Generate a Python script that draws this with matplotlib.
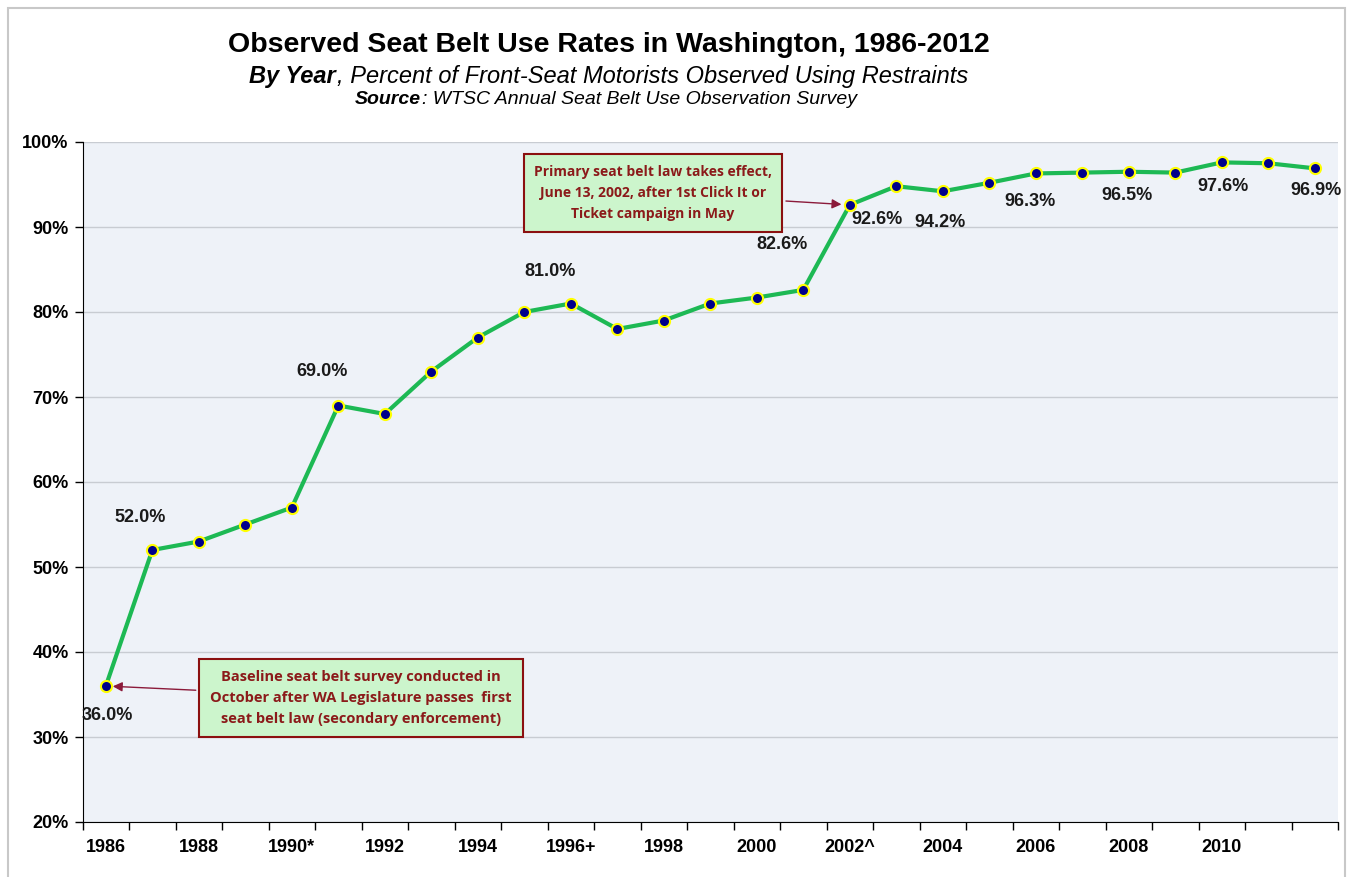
import matplotlib
matplotlib.use("Agg")
import matplotlib.pyplot as plt
from matplotlib.patches import Rectangle
import numpy as np

years = list(range(1986, 2013))
rates = [36.0, 52.0, 53.0, 55.0, 57.0, 69.0, 68.0, 73.0, 77.0, 80.0, 81.0, 78.0, 79.0, 81.0,
         81.7, 82.6, 92.6, 94.8, 94.2, 95.2, 96.3, 96.4, 96.5, 96.4, 97.6, 97.5, 96.9]
tick_years = [1986, 1988, 1990, 1992, 1994, 1996, 1998, 2000, 2002, 2004, 2006, 2008, 2010]
tick_labels = ["1986", "1988", "1990*", "1992", "1994", "1996+", "1998", "2000", "2002^",
               "2004", "2006", "2008", "2010"]
y_ticks = [20, 30, 40, 50, 60, 70, 80, 90, 100]
labeled = {1986: (1, -29), 1987: (-12, 32), 1991: (-16, 34), 1996: (-21, 32), 2001: (-21, 45),
           2002: (27, -15), 2004: (-3, -31), 2006: (-6, -28), 2008: (-2, -24),
           2010: (1, -24), 2012: (1, -22)}

plt.rcParams['font.family'] = ['Liberation Sans', 'DejaVu Sans']

fig = plt.figure(figsize=(13.49, 8.77), dpi=100)
fig.patch.set_facecolor('white')
fig.patches.append(Rectangle((8/1349, -0.01), 1337/1349, 1.01 - 8/877, transform=fig.transFigure,
                             fill=False, edgecolor='#c8c8c8', linewidth=1.5))

ax = fig.add_axes([82.6/1349, 55/877, (1338-82.6)/1349, (822-142)/877])
ax.set_facecolor('#eef2f8')
ax.set_xlim(1985.5, 2012.5)
ax.set_ylim(20, 100)

ax.set_yticks(y_ticks)
ax.set_yticklabels([f"{v}%" for v in y_ticks], fontsize=13, fontweight='bold')
ax.yaxis.grid(True, color='#c8ccd2', linewidth=1)
ax.set_axisbelow(True)

ax.set_xticks(tick_years)
ax.set_xticklabels(tick_labels, fontsize=13, fontweight='bold')
ax.set_xticks(np.arange(1985.5, 2013.0, 1.0), minor=True)
ax.tick_params(axis='x', which='major', length=0, pad=12)
ax.tick_params(axis='x', which='minor', length=6, width=1, direction='out')
ax.tick_params(axis='y', length=6, width=1, direction='out', pad=4)

for s in ['top', 'right']:
    ax.spines[s].set_visible(False)
ax.spines['left'].set_color('black')
ax.spines['bottom'].set_color('black')

ax.plot(years, rates, color='#1db954', linewidth=3, zorder=3,
        marker='o', markersize=8, markerfacecolor='#00008b', markeredgecolor='#ffff00',
        markeredgewidth=1.5)

for yr, (dx, dy) in labeled.items():
    v = rates[years.index(yr)]
    ax.annotate(f"{v:.1f}%", (yr, v), xytext=(dx, dy), textcoords='offset pixels',
                ha='center', va='center', fontsize=13, fontweight='bold', color='#1a1a1a', zorder=4)

box_font = ['Open Sans', 'DejaVu Sans']
ax.annotate("Primary seat belt law takes effect,\nJune 13, 2002, after 1st Click It or\nTicket campaign in May",
            xy=(2002, rates[years.index(2002)]), xytext=(653/1349, (877-193)/877),
            textcoords='figure fraction', ha='center', va='center', fontsize=10,
            fontweight='bold', color='#8b1a1a', family=box_font, linespacing=1.65,
            bbox=dict(boxstyle='square,pad=0.75', facecolor='#ccf5cc', edgecolor='#8b1010', linewidth=1.5),
            arrowprops=dict(arrowstyle='-|>', color='#8b1a3a', lw=1, shrinkB=6, mutation_scale=14),
            zorder=5)
ax.annotate("Baseline seat belt survey conducted in\nOctober after WA Legislature passes  first\nseat belt law (secondary enforcement)",
            xy=(1986, rates[0]), xytext=(361/1349, (877-698)/877),
            textcoords='figure fraction', ha='center', va='center', fontsize=10.5,
            fontweight='bold', color='#8b1a1a', family=box_font, linespacing=1.6,
            bbox=dict(boxstyle='square,pad=0.75', facecolor='#ccf5cc', edgecolor='#8b1010', linewidth=1.5),
            arrowprops=dict(arrowstyle='-|>', color='#8b1a3a', lw=1, shrinkB=5, mutation_scale=14),
            zorder=5)

fig.text(609/1349, 1 - 45/877, "Observed Seat Belt Use Rates in Washington, 1986-2012",
         ha='center', va='center', fontsize=20.5, fontweight='bold')

renderer = fig.canvas.get_renderer()


def two_part(x_px, y_px, bold_part, rest, size):
    t1 = fig.text(x_px/1349, 1 - y_px/877, bold_part, ha='left', va='center', fontsize=size,
                  fontweight='bold', fontstyle='italic')
    w = t1.get_window_extent(renderer=renderer).width
    fig.text((x_px + w + 1)/1349, 1 - y_px/877, rest, ha='left', va='center', fontsize=size,
             fontstyle='italic')


two_part(249, 76, "By Year", ", Percent of Front-Seat Motorists Observed Using Restraints", 17)
two_part(355, 100, "Source", ": WTSC Annual Seat Belt Use Observation Survey", 14)

fig.savefig("out.png", dpi=100)
